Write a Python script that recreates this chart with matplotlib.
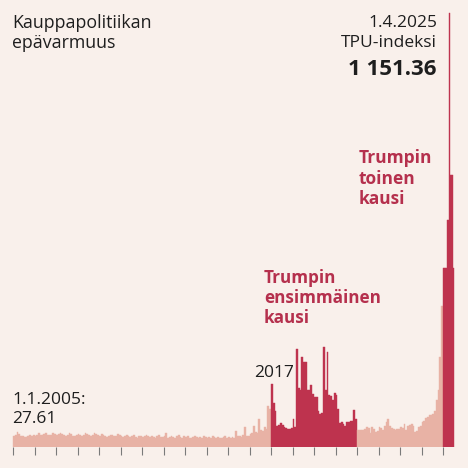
import numpy as np
import matplotlib; matplotlib.use('Agg')
from matplotlib import pyplot as plt

# Monthly TPU index values
tpu_2005_2016 = [
    28, 33, 39, 34, 30, 28, 27, 27, 29, 32, 30, 31,
    30, 33, 36, 31, 32, 34, 37, 33, 31, 33, 36, 34,
    32, 35, 38, 34, 31, 30, 33, 36, 34, 30, 29, 32,
    35, 33, 30, 32, 36, 34, 31, 29, 33, 38, 35, 32,
    30, 34, 31, 29, 27, 30, 33, 31, 28, 30, 34, 32,
    29, 27, 30, 33, 28, 26, 29, 31, 27, 25, 28, 30,
    27, 29, 32, 28, 26, 30, 27, 25, 28, 31, 27, 26,
    28, 37, 24, 27, 30, 26, 25, 28, 31, 27, 25, 29,
    26, 28, 25, 23, 27, 29, 26, 24, 27, 25, 28, 26,
    24, 27, 25, 28, 26, 24, 27, 25, 23, 26, 28, 25,
    26, 24, 27, 25, 42, 30, 28, 27, 32, 52, 30, 28,
    35, 38, 57, 40, 38, 73, 45, 42, 52, 48, 110, 100,
]
tpu_2017_2020 = [
    166, 117, 95, 55, 58, 63, 58, 52, 50, 48, 47, 50,
    74, 52, 260, 157, 150, 240, 225, 225, 150, 152, 164, 140,
    133, 133, 95, 88, 90, 265, 150, 252, 138, 135, 125, 143,
    138, 100, 63, 65, 60, 55, 65, 66, 68, 68, 98, 75,
]
tpu_2021_2024 = [
    44, 44, 44, 44, 48, 54, 50, 36, 52, 48, 40, 42,
    52, 50, 45, 55, 66, 73, 55, 50, 47, 45, 47, 48,
    52, 50, 61, 45, 56, 58, 60, 57, 40, 42, 52, 55,
    66, 70, 76, 80, 85, 86, 88, 95, 124, 150, 238, 374,
]
# 2025 readings up to 1.4.2025 (denser series)
tpu_2025 = [475, 475, 475, 475, 602, 602, 1151.36, 721, 721, 721, 475]

years = list(range(2005, 2026))

light = '#e8b2a5'
dark = '#be334e'
bg = '#f9f0eb'
red_text = '#b5304d'
ink = '#1e1e1e'

plt.rcParams['font.family'] = ['Open Sans', 'DejaVu Sans']

fig = plt.figure(figsize=(4.68, 4.68), dpi=100)
fig.patch.set_facecolor(bg)
ax = fig.add_axes([0, 21 / 468, 1, 447 / 468])
ax.set_facecolor(bg)

def month_x(start_year, n):
    return start_year + np.arange(n) / 12.0

x1 = month_x(2005, len(tpu_2005_2016))
x2 = month_x(2017, len(tpu_2017_2020))
x3 = month_x(2021, len(tpu_2021_2024))
step_2025 = 1 / 21.5
x4 = 2025 + np.arange(len(tpu_2025)) * step_2025

ax.bar(x1, tpu_2005_2016, width=1 / 12, align='edge', color=light, edgecolor=light, linewidth=0.3)
ax.bar(x2, tpu_2017_2020, width=1 / 12, align='edge', color=dark, edgecolor=dark, linewidth=0.3)
ax.bar(x3, tpu_2021_2024, width=1 / 12, align='edge', color=light, edgecolor=light, linewidth=0.3)
ax.bar(x4, tpu_2025, width=step_2025, align='edge', color=dark, edgecolor=dark, linewidth=0.3)

ax.set_xlim(2005 - 13 / 21.5, 2025 + 25 / 21.5)
ax.set_ylim(0, 1151.36 * 447 / 434)

for s in ax.spines.values():
    s.set_visible(False)
ax.set_xticks(years)
ax.set_xticklabels([])
ax.tick_params(axis='x', length=6, width=0.8, color='#7a7a7a', direction='out')
ax.set_yticks([])

# Texts (in figure pixel coordinates, origin top-left)
def ftext(x, y, s, **kw):
    fig.text(x / 468, 1 - y / 468, s, **kw)

ftext(12, 28, 'Kauppapolitiikan', fontsize=12.8, color=ink, va='baseline')
ftext(12, 48, 'epävarmuus', fontsize=12.8, color=ink, va='baseline')

ftext(437, 27, '1.4.2025', fontsize=12.5, color=ink, ha='right', va='baseline')
ftext(437, 47, 'TPU-indeksi', fontsize=12.5, color=ink, ha='right', va='baseline')
ftext(437, 75, '1 151.36', fontsize=16, color=ink, ha='right', va='baseline', fontweight='bold')

for i, line in enumerate(['Trumpin', 'toinen', 'kausi']):
    ftext(359, 163 + i * 20.5, line, fontsize=12.5, color=red_text, va='baseline', fontweight='bold')
for i, line in enumerate(['Trumpin', 'ensimmäinen', 'kausi']):
    ftext(264, 283 + i * 20, line, fontsize=12.3, color=red_text, va='baseline', fontweight='bold')

ftext(274, 377, '2017', fontsize=12.5, color=ink, ha='center', va='baseline')
ftext(12, 404, '1.1.2005:', fontsize=12.5, color=ink, va='baseline')
ftext(12, 423, '27.61', fontsize=12.5, color=ink, va='baseline')

plt.savefig('out.png', dpi=100, facecolor=bg)
plt.close()
